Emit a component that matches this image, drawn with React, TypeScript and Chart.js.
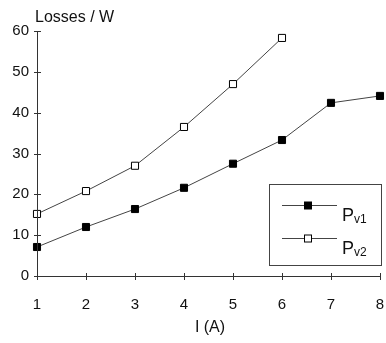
import React, { useEffect, useRef } from "react";
import { Chart, registerables } from "chart.js";

Chart.register(...registerables);

const currents = [1, 2, 3, 4, 5, 6, 7, 8];
const pv1 = [7.1, 12.0, 16.4, 21.6, 27.5, 33.3, 42.4, 44.1];
const pv2 = [15.2, 20.8, 27.0, 36.5, 47.0, 58.3];
const yTicks = [0, 10, 20, 30, 40, 50, 60];
const xTicks = [1, 2, 3, 4, 5, 6, 7, 8];
const yTitle = "Losses / W";
const xTitle = "I (A)";
const legendItems = [
  { main: "P", sub: "v1", filled: true },
  { main: "P", sub: "v2", filled: false },
];

const FONT = "'Liberation Sans', Arial, sans-serif";

const decorPlugin = {
  id: "decor",
  afterDraw(chart: any) {
    const ctx = chart.ctx;
    const xs = chart.scales.x;
    const ys = chart.scales.y;
    const area = chart.chartArea;
    ctx.save();
    ctx.strokeStyle = "#333";
    ctx.lineWidth = 1;
    ctx.beginPath();
    ctx.moveTo(area.left + 0.5, area.top);
    ctx.lineTo(area.left + 0.5, area.bottom + 0.5);
    ctx.lineTo(area.right, area.bottom + 0.5);
    ctx.stroke();
    ctx.beginPath();
    yTicks.forEach((v) => {
      const y = Math.round(ys.getPixelForValue(v)) + 0.5;
      ctx.moveTo(area.left - 3, y);
      ctx.lineTo(area.left + 4, y);
    });
    xTicks.forEach((v) => {
      const x = Math.round(xs.getPixelForValue(v)) + 0.5;
      ctx.moveTo(x, area.bottom - 3);
      ctx.lineTo(x, area.bottom + 4);
    });
    ctx.stroke();
    ctx.fillStyle = "#111";
    ctx.font = `16px ${FONT}`;
    ctx.textAlign = "left";
    ctx.textBaseline = "alphabetic";
    ctx.fillText(yTitle, 35, 22);
    ctx.textAlign = "center";
    ctx.fillText(xTitle, 210, 332);
    const bx = 269.5, by = 184.5, bw = 112, bh = 81;
    ctx.strokeStyle = "#444";
    ctx.strokeRect(bx, by, bw, bh);
    legendItems.forEach((it, i) => {
      const ly = 205.5 + i * 33;
      ctx.strokeStyle = "#444";
      ctx.beginPath();
      ctx.moveTo(282, ly);
      ctx.lineTo(337, ly);
      ctx.stroke();
      ctx.fillStyle = it.filled ? "#000" : "#fff";
      ctx.fillRect(304.5, ly - 3.5, 7, 7);
      ctx.strokeStyle = "#000";
      ctx.strokeRect(304.5, ly - 3.5, 7, 7);
      ctx.fillStyle = "#111";
      ctx.textAlign = "left";
      ctx.font = `18px ${FONT}`;
      ctx.fillText(it.main, 342, ly + 15);
      ctx.font = `12px ${FONT}`;
      ctx.fillText(it.sub, 354, ly + 17);
    });
    ctx.restore();
  },
};

export default function App() {
  const ref = useRef<HTMLCanvasElement>(null);
  useEffect(() => {
    const chart = new Chart(ref.current!, {
      type: "line",
      data: {
        datasets: [
          {
            label: "Pv1",
            data: currents.map((x, i) => ({ x, y: pv1[i] })),
            borderColor: "#444",
            borderWidth: 1,
            pointStyle: "rect",
            pointRadius: 5,
            pointBackgroundColor: "#000",
            pointBorderColor: "#000",
            pointBorderWidth: 1,
            clip: false,
          },
          {
            label: "Pv2",
            data: pv2.map((y, i) => ({ x: currents[i], y })),
            borderColor: "#444",
            borderWidth: 1,
            pointStyle: "rect",
            pointRadius: 5,
            pointBackgroundColor: "#fff",
            pointBorderColor: "#000",
            pointBorderWidth: 1,
            clip: false,
          },
        ],
      },
      options: {
        animation: false,
        responsive: false,
        maintainAspectRatio: false,
        layout: { padding: { top: 31, right: 5, left: 0, bottom: 0 } },
        plugins: { legend: { display: false }, tooltip: { enabled: false } },
        scales: {
          x: {
            type: "linear",
            min: 1,
            max: 8,
            afterFit: (s: any) => {
              s.height = 67;
              s.paddingLeft = 0;
              s.paddingRight = 0;
            },
            afterBuildTicks: (s: any) => {
              s.ticks = xTicks.map((v) => ({ value: v }));
            },
            grid: { display: false, drawTicks: false },
            border: { display: false },
            ticks: { color: "#111", font: { family: FONT, size: 15 }, padding: 20, maxRotation: 0, autoSkip: false },
          },
          y: {
            min: 0,
            max: 60,
            afterFit: (s: any) => {
              s.width = 37;
              s.paddingTop = 0;
              s.paddingBottom = 0;
            },
            afterBuildTicks: (s: any) => {
              s.ticks = yTicks.map((v) => ({ value: v }));
            },
            grid: { display: false, drawTicks: false },
            border: { display: false },
            ticks: { color: "#111", font: { family: FONT, size: 15 }, padding: 8 },
          },
        },
      },
      plugins: [decorPlugin],
    });
    return () => chart.destroy();
  }, []);
  return (
    <div style={{ position: "absolute", left: 0, top: 0, width: 386, height: 343, background: "#fff" }}>
      <canvas ref={ref} width={386} height={343} />
    </div>
  );
}
